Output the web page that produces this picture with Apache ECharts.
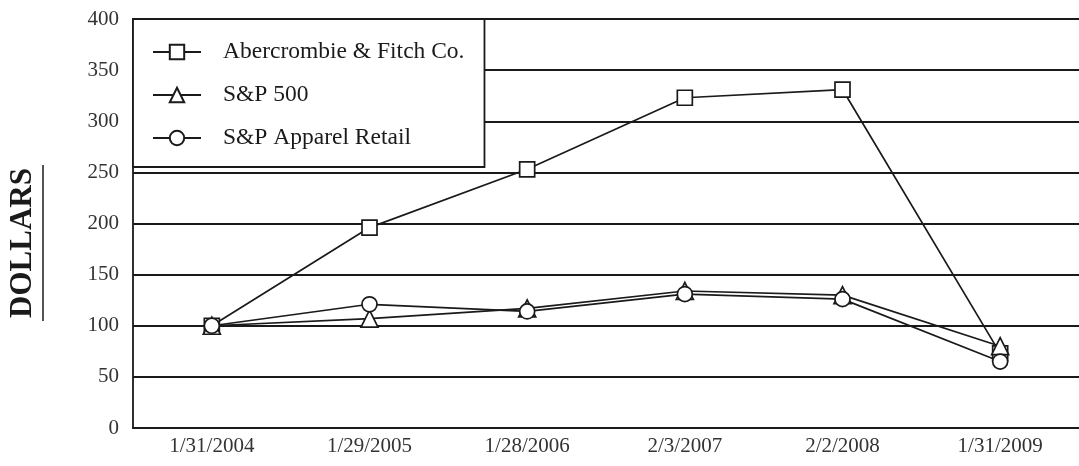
<!DOCTYPE html>
<html>
<head>
<meta charset="utf-8">
<script src="https://cdn.jsdelivr.net/npm/echarts@6/dist/echarts.min.js"></script>
<style>html,body{margin:0;padding:0;background:#fff}#c{width:1079px;height:466px}</style>
</head>
<body>
<div id="c"></div>
<script>
const categories = ['1/31/2004', '1/29/2005', '1/28/2006', '2/3/2007', '2/2/2008', '1/31/2009'];
const seriesNames = ['Abercrombie & Fitch Co.', 'S&P 500', 'S&P Apparel Retail'];
const anfValues = [100, 196, 253, 323, 331, 73];
const sp500Values = [100, 107, 117, 134, 130, 80];
const apparelValues = [100, 121, 114, 131, 126, 65];
const yTicks = { min: 0, max: 400, interval: 50 };
const yTitle = 'DOLLARS';

const FONT = '"Liberation Serif", "Times New Roman", serif';
const INK = '#1a1a1a';

const chart = echarts.init(document.getElementById('c'), null, { renderer: 'canvas' });

function lineSeries(name, data, symbol, size) {
  return {
    name: name,
    type: 'line',
    data: data,
    symbol: symbol,
    symbolSize: size,
    showAllSymbol: true,
    lineStyle: { color: INK, width: 1.7 },
    itemStyle: { color: '#fff', borderColor: INK, borderWidth: 1.7 },
    emphasis: { disabled: true },
    animation: false
  };
}

chart.setOption({
  animation: false,
  backgroundColor: '#fff',
  grid: { left: 133, top: 19, bottom: 38, right: -11, containLabel: false },
  legend: {
    data: seriesNames,
    orient: 'vertical',
    left: 133,
    top: 19,
    backgroundColor: '#fff',
    borderColor: INK,
    borderWidth: 1.8,
    borderRadius: 0,
    padding: [21, 20, 17, 19],
    itemWidth: 48,
    itemHeight: 18,
    itemGap: 19,
    textStyle: { fontFamily: FONT, fontSize: 23.5, color: INK, padding: [0, 0, 0, 17] },
    selectedMode: false
  },
  xAxis: {
    type: 'category',
    data: categories,
    boundaryGap: true,
    axisLine: { lineStyle: { color: INK, width: 1.8 } },
    axisTick: { alignWithLabel: true, length: 6, lineStyle: { color: INK, width: 1.8 } },
    axisLabel: { fontFamily: FONT, fontSize: 21, color: '#333', margin: 8 },
    splitLine: { show: false }
  },
  yAxis: {
    type: 'value',
    min: yTicks.min,
    max: yTicks.max,
    interval: yTicks.interval,
    axisLine: { show: true, lineStyle: { color: INK, width: 1.8 } },
    axisTick: { show: false },
    axisLabel: { fontFamily: FONT, fontSize: 21, color: '#333', margin: 14 },
    splitLine: { show: true, lineStyle: { color: INK, width: 1.8 } }
  },
  graphic: [
    {
      type: 'text',
      x: 23, y: 243,
      rotation: Math.PI / 2,
      style: {
        text: yTitle,
        fontFamily: FONT, fontSize: 31, fontWeight: 'bold', fill: INK,
        align: 'center', verticalAlign: 'middle'
      }
    },
    {
      type: 'line',
      shape: { x1: 43, y1: 165, x2: 43, y2: 321 },
      style: { stroke: INK, lineWidth: 1.5 }
    }
  ],
  series: [
    lineSeries(seriesNames[0], anfValues, 'rect', 15),
    lineSeries(seriesNames[1], sp500Values, 'triangle', 17),
    lineSeries(seriesNames[2], apparelValues, 'circle', 15)
  ]
});
</script>
</body>
</html>
